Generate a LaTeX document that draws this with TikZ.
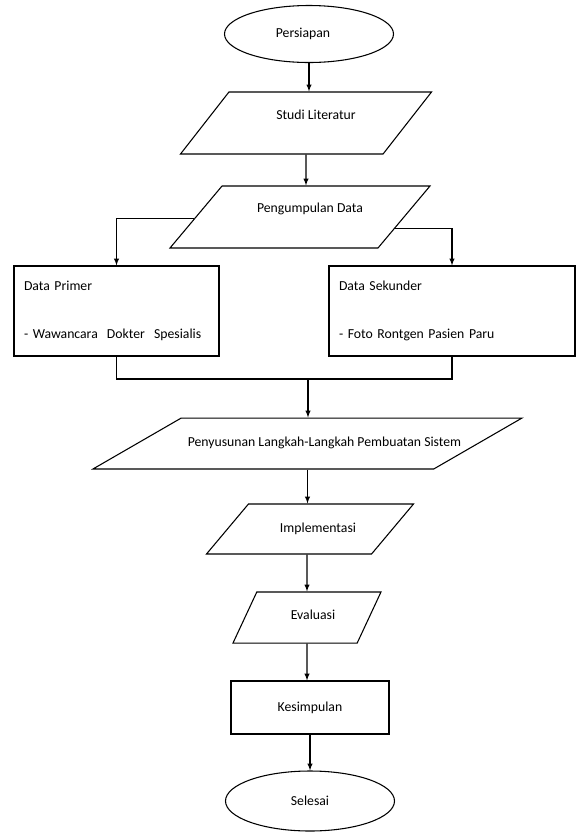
\documentclass[tikz,border=0pt]{standalone}
\usepackage{fontspec}
\setmainfont{Carlito}
\usetikzlibrary{shapes.geometric}

\begin{document}
\begin{tikzpicture}[x=0.75pt, y=-0.75pt, >=latex, line width=0.8pt,
  font=\fontsize{10.3}{12.4}\selectfont,
  terminal/.style={draw, ellipse, minimum width=126.75pt, minimum height=42.75pt},
  data/.style={draw, trapezium, trapezium stretches body=true, text height=7pt, text depth=2pt},
  box/.style={draw, rectangle, align=left, inner sep=7.5pt, minimum height=67.5pt}]
  \useasboundingbox (0,0) rectangle (585,833);

  % Define nodes
  \node[terminal] (persiapan) at (309,34) {Persiapan\hspace*{9pt}};
  \node[data, text depth=12.4pt, inner ysep=13.55pt, trapezium left angle=52, trapezium right angle=128,
        minimum width=188.25pt] (studi) at (306,123)
        {\hspace*{15pt}Studi Literatur};
  \node[data, text depth=13.9pt, inner ysep=12.8pt, trapezium left angle=50, trapezium right angle=130,
        minimum width=195pt] (kumpul) at (300,217)
        {\hspace*{15pt}Pengumpulan Data};
  \node[box, text width=138.75pt] (primer) at (116.5,311)
        {Data Primer\\[24pt]- Wawancara\ \ Dokter\ \ Spesialis};
  \node[box, text width=169.5pt] (sekunder) at (452,311)
        {Data Sekunder\\[24pt]- Foto Rontgen Pasien Paru};
  \coordinate (join) at (308,379);
  \node[data, inner ysep=14.6pt, trapezium left angle=30, trapezium right angle=150,
        minimum width=321.75pt] (susun) at (307.5,443.5)
        {\makebox[0pt]{\hspace*{25.5pt}Penyusunan Langkah-Langkah Pembuatan Sistem}};
  \node[data, inner ysep=14.25pt, trapezium left angle=50, trapezium right angle=130,
        minimum width=155.25pt] (implementasi) at (310,529)
        {\hspace*{12pt}Implementasi};
  \node[data, text depth=3.5pt, inner ysep=13.9pt, trapezium left angle=65, trapezium right angle=115,
        minimum width=111pt] (evaluasi) at (307,617.5)
        {\hspace*{9pt}Evaluasi};
  \node[draw, rectangle, minimum width=118.5pt, minimum height=39.75pt] (kesimpulan) at (310,707.5) {Kesimpulan};
  \node[terminal, minimum height=45pt] (selesai) at (310,801) {Selesai};

  % Define edges
  \draw[->] (persiapan) -- (persiapan |- studi.north);
  \draw[->] (studi) -- (studi |- kumpul.north);
  \draw[->] (kumpul.181) -| (primer);
  \draw[->] (kumpul.353) -| (sekunder);
  \draw (primer) |- (join);
  \draw (sekunder) |- (join);
  \draw[->] (join) -- (join |- susun.north);
  \draw[->] (susun) -- (susun |- implementasi.north);
  \draw[->] (implementasi.south -| evaluasi) -- (evaluasi);
  \draw[->] (evaluasi) -- (evaluasi |- kesimpulan.north);
  \draw[->] (kesimpulan) -- (selesai);
\end{tikzpicture}
\end{document}
